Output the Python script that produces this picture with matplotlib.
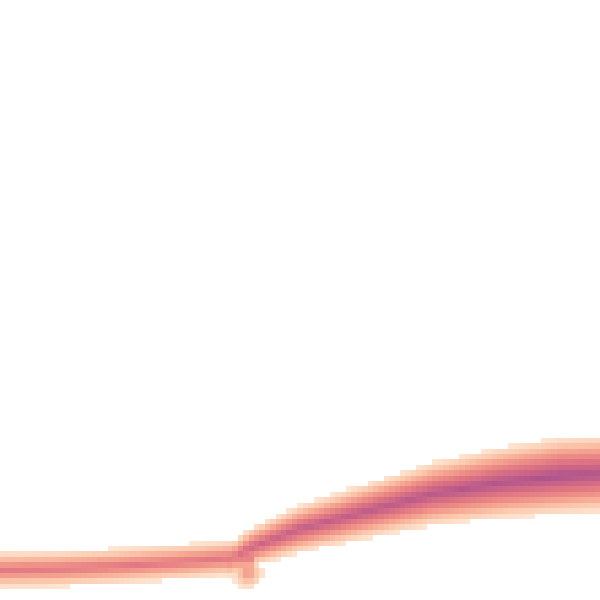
import numpy as np
import matplotlib
matplotlib.use("Agg")
import matplotlib.pyplot as plt
from matplotlib.colors import LinearSegmentedColormap

# --- data (x along the frame, y = height above bottom) ---
flat_x = [0, 60, 120, 180, 230, 252]
flat_y = [30, 31, 34, 38, 42, 43]
flat_halfwidth = 19.0
flat_peak = 0.55

rise_x = [226, 250, 300, 367, 433, 500, 560, 600]
rise_y = [38, 52, 71, 89, 106, 117, 124, 126]
rise_halfwidth = [18, 21, 25, 29, 33, 37, 40, 40]
rise_peak = [0.5, 0.7, 0.76, 0.8, 0.84, 0.88, 0.92, 0.88]

knot_x = [248]
knot_y = [27]
knot_halfwidth = [17]
knot_peak = [0.42]

n_bins = 111
threshold = 0.02

cmap_colors = ["#fde6d3", "#fccbb0", "#f6a892", "#ec8a86",
               "#dd7483", "#c96488", "#b4588b", "#a04d8a"]

edges = np.linspace(0, 600, n_bins + 1)
centers = (edges[:-1] + edges[1:]) / 2
X, Y = np.meshgrid(centers, centers)


def profile(d, w, p):
    return p * np.clip(1 - np.abs(d) / w, 0, None) ** 1.15


# flat band
mask_a = (X >= flat_x[0]) & (X <= flat_x[-1])
ca = np.interp(X, flat_x, flat_y)
dens_a = np.where(mask_a, profile(Y - ca, flat_halfwidth, flat_peak), 0)

# rising band
mask_b = (X >= rise_x[0]) & (X <= rise_x[-1])
cb = np.interp(X, rise_x, rise_y)
wb = np.interp(X, rise_x, rise_halfwidth)
pb = np.interp(X, rise_x, rise_peak)
dens_b = np.where(mask_b, profile(Y - cb, wb, pb), 0)

density = np.maximum(dens_a, dens_b)

# knot
for kx, ky, kw, kp in zip(knot_x, knot_y, knot_halfwidth, knot_peak):
    r = np.hypot(X - kx, Y - ky)
    density = np.maximum(density, profile(r, kw, kp))

density = np.clip(density, 0, 1)
density = np.ma.masked_less(density, threshold)

cmap = LinearSegmentedColormap.from_list("band", cmap_colors)
cmap.set_bad("white")

fig = plt.figure(figsize=(6, 6), dpi=100)
ax = fig.add_axes([0, 0, 1, 1])
ax.pcolormesh(edges, edges, density, cmap=cmap, vmin=threshold, vmax=1.0)
ax.set_xlim(0, 600)
ax.set_ylim(0, 600)
ax.axis("off")
fig.savefig("out.png", dpi=100, facecolor="white")
